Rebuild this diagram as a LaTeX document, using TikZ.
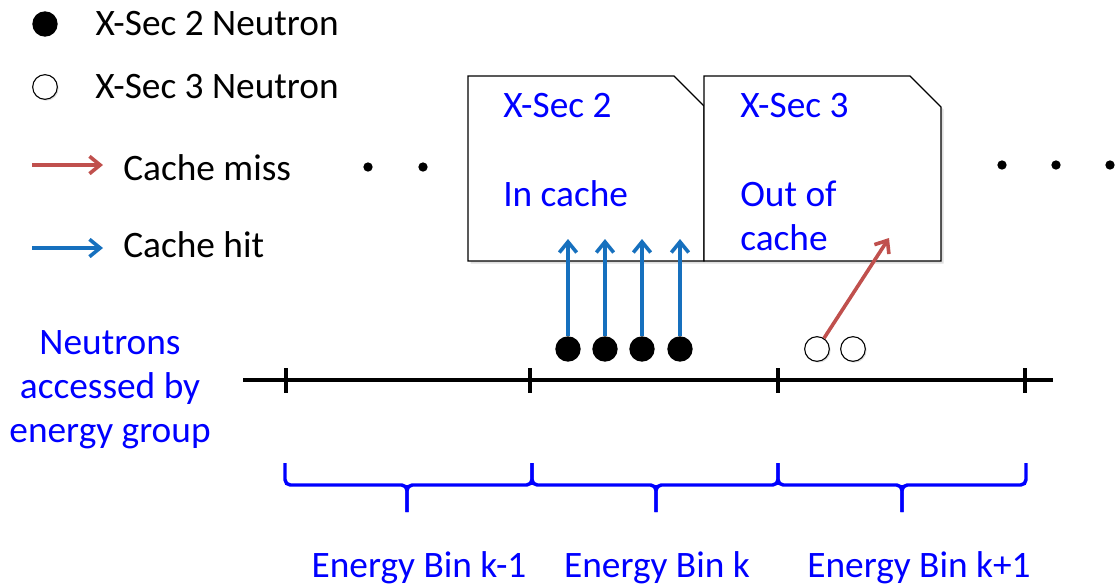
\documentclass[tikz,border=0pt]{standalone}
\usepackage{fontspec}
\setmainfont{Carlito}
\usetikzlibrary{arrows.meta, positioning, shadows}

\definecolor{hitblue}{RGB}{22,112,190}
\definecolor{missred}{RGB}{192,80,77}

\begin{document}
\begin{tikzpicture}[
    x=0.75pt, y=-0.75pt,
    font=\fontsize{28}{33}\selectfont,
    legendtext/.style={inner sep=0pt},
    doctext/.style={inner sep=0pt, anchor=base west, text=blue, align=left},
    xsectwo/.style={circle, fill=black, minimum size=19pt, inner sep=0pt},
    xsecthree/.style={circle, draw=black, fill=white, line width=0.8pt, minimum size=18.5pt, inner sep=0pt, drop shadow={shadow xshift=1pt, shadow yshift=-1pt, opacity=0.25}},
    dot/.style={circle, fill=black, minimum size=7pt, inner sep=0pt},
    xsdoc/.style={draw=black, fill=white, line width=0.9pt, drop shadow={shadow xshift=2pt, shadow yshift=-2pt, opacity=0.25}},
    hit/.style={draw=hitblue, line width=2.7pt, -{Straight Barb[length=8pt, width=13pt]}},
    miss/.style={draw=missred, line width=2.7pt, -{Straight Barb[length=8pt, width=13pt]}},
    axis/.style={draw=black, line width=2.4pt},
    bin/.style={draw=blue, line width=2.6pt, rounded corners=4pt},
    bintext/.style={inner sep=0pt, anchor=base, text=blue}
]
    \useasboundingbox (0,0) rectangle (1117,586);

    % Legend
    \node [xsectwo] (legtwo) at (45,24) {};
    \node [legendtext, right=28pt of legtwo] (legtwotext) {X-Sec 2 Neutron};
    \node [xsecthree] (legthree) at (45,87) {};
    \node [legendtext, right=28pt of legthree] (legthreetext) {X-Sec 3 Neutron};
    \coordinate (missa) at (32,165);
    \coordinate (missb) at (103,165);
    \node [legendtext, anchor=west] (misstext) at (123,168) {Cache miss};
    \coordinate (hita) at (32,248);
    \coordinate (hitb) at (103,248);
    \node [legendtext, anchor=west] (hittext) at (123,245) {Cache hit};

    % Dots
    \node [dot] (dotl1) at (368,167) {};
    \node [dot] (dotl2) at (423,167) {};
    \foreach \x [count=\i] in {1002,1056,1110}
        \node [dot] (dotr\i) at (\x,165) {};

    % Cross section tables
    \draw [xsdoc] (468,76) -- (674,76) -- (704,106) -- (704,261) -- (468,261) -- cycle;
    \draw [xsdoc] (704,76) -- (910,76) -- (941,107) -- (941,261) -- (704,261) -- cycle;
    \node [doctext] (xstwo) at (503,117) {X-Sec 2};
    \node [doctext] (incache) at (503,206) {In cache};
    \node [doctext] (xsthree) at (740,117) {X-Sec 3};
    \node [doctext] (outof) at (740,206) {Out of};
    \node [doctext] (outcache) at (740,250) {cache};

    % Energy axis
    \draw [axis] (243,380) -- (1053,380);
    \foreach \x in {286,530,778,1025}
        \draw [axis] (\x,368) -- (\x,393);
    \node [text=blue, align=center, inner sep=0pt] (access) at (110,390) {Neutrons\\accessed by\\energy group};

    % Neutrons
    \foreach \x [count=\i] in {568,605,642,680} {
        \node [xsectwo] (ntwo\i) at (\x,349) {};
        \coordinate (hit\i) at (\x,239);
    }
    \node [xsecthree] (nthree1) at (817,349) {};
    \node [xsecthree] (nthree2) at (853,349) {};
    \coordinate (misstip) at (889,238);

    % Energy bins
    \foreach \a/\m/\b in {285/407/532, 532/656/778, 778/902/1026} {
        \draw [bin] (\a,463) -- (\a,485) -- (\m,485) -- (\m,512);
        \draw [bin] (\b,463) -- (\b,485) -- (\m,485) -- (\m,512);
    }
    \node [bintext] (binprev) at (419,577) {Energy Bin k-1};
    \node [bintext] (binthis) at (657,577) {Energy Bin k};
    \node [bintext] (binnext) at (919,577) {Energy Bin k+1};

    % Edges
    \path [miss] (missa) -- (missb);
    \path [hit] (hita) -- (hitb);
    \foreach \i in {1,...,4}
        \path [hit] (ntwo\i) -- (hit\i);
    \path [miss] (nthree1) -- (misstip);
\end{tikzpicture}
\end{document}
